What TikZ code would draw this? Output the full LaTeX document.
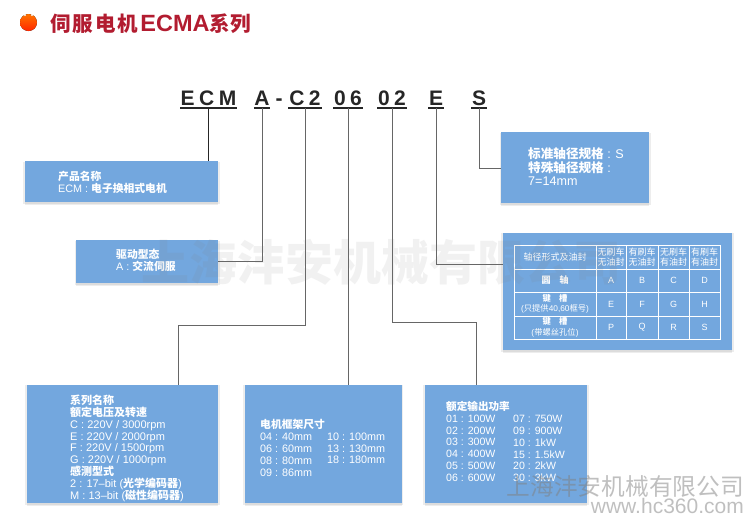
\documentclass[tikz,border=0pt]{standalone}
\usepackage{fontspec}
\setmainfont{Liberation Sans}
\newfontfamily\cjk{Noto Sans CJK SC}
\usetikzlibrary{positioning, shadows}
\definecolor{boxblue}{RGB}{115,167,222}
\definecolor{titlered}{RGB}{178,28,48}
\newcommand{\zh}[1]{{\cjk\bfseries #1}}
\newcommand{\zl}[1]{{\cjk #1}}
\newcommand{\fs}[2]{\fontsize{#1}{#2}\selectfont}
\newcommand{\gap}{\kern4.5pt}

\begin{document}
\begin{tikzpicture}[
    x=1pt, y=-1pt,
    node distance=26pt,
    infobox/.style={fill=boxblue, inner sep=0pt, anchor=north west,
        drop shadow={shadow xshift=0pt, shadow yshift=-1pt, shadow scale=1.02, opacity=.07, fill=black},
        drop shadow={shadow xshift=0pt, shadow yshift=-3pt, opacity=.07, fill=black}},
    boxtext/.style={text=white, anchor=north west, align=left, inner sep=0pt},
    codepart/.style={font=\bfseries\fs{21}{21}, text=black!85, anchor=south,
        inner xsep=0pt, inner ysep=2pt, text depth=0pt,
        append after command={(\tikzlastnode.south west) edge[line width=1.5pt, black!85] (\tikzlastnode.south east)}},
    wire/.style={draw=black!60, line width=.8pt},
    cell/.style={text=white, align=center, inner sep=0pt, font=\fs{9}{10.8}},
    watermark/.style={inner sep=0pt, text=gray, opacity=.5},
]
    \useasboundingbox (0,0) rectangle (750,520);

    % Title
    \fill[top color=orange!90!red, bottom color=red!70!orange] (28.5,22.5) circle (8.5);
    \fill[white] (25,15) circle (1.2) (32,15) circle (1.2);
    \node[anchor=west, inner sep=0pt, text=titlered, font=\fs{20.5}{22}] (title) at (50,24)
        {\zh{\addfontfeature{LetterSpace=10}伺服电机}{\fs{23.5}{22}\textbf{ECMA}}\zh{系列}};

    % Model number
    \node[codepart, minimum width=56pt] (ecm) at (208.5,108) {E\gap C\gap M};
    \node[codepart, minimum width=16pt] (drivecode) at (262,108) {A};
    \node[anchor=south, inner ysep=2pt, inner xsep=0pt, font=\bfseries\fs{21}{21}, text=black!85] (dash) at (279,108) {-};
    \node[codepart, minimum width=33pt] (seriescode) at (305,108) {C\gap 2};
    \node[codepart, minimum width=29pt] (framecode) at (348,108) {0\gap 6};
    \node[codepart, minimum width=29pt] (powercode) at (392,108) {0\gap 2};
    \node[codepart, minimum width=15pt] (shaftcode) at (436,108) {E};
    \node[codepart, minimum width=15pt] (sizecode) at (479,108) {S};

    % Upper boxes
    \node[infobox, minimum width=193pt, minimum height=41pt] (name) at (25,161) {};
    \node[infobox, minimum width=142pt, minimum height=43pt] (drive) at (76,240) {};
    \node[infobox, minimum width=148pt, minimum height=71pt] (size) at (501,132) {};
    \node[infobox, minimum width=229pt, minimum height=117pt] (shaft) at (503,233) {};

    % Lower boxes
    \node[infobox, minimum width=191pt, minimum height=118pt] (series) at (27,385) {};
    \node[infobox, anchor=west, minimum width=157pt, minimum height=118pt, right=26pt of series] (frame) {};
    \node[infobox, anchor=west, minimum width=162pt, minimum height=118pt, right=23pt of frame] (power) {};

    % Connectors
    \coordinate (serieselbow) at (178,325);
    \coordinate (powerelbow) at (476,322);
    \coordinate (sizeelbow) at (501,168);
    \coordinate (shaftelbow) at (503,264);
    \draw[wire, draw=black!85] (ecm.south) -- (ecm.south |- name.north);
    \draw[wire] (drivecode.south) |- (drive.east);
    \draw[wire] (seriescode.south) |- (serieselbow) -- (serieselbow |- series.north);
    \draw[wire] (framecode.south) -- (framecode.south |- frame.north);
    \draw[wire] (powercode.south) |- (powerelbow) -- (powerelbow |- power.north);
    \draw[wire] (shaftcode.south) |- (shaftelbow);
    \draw[wire] (sizecode.south) |- (sizeelbow);

    % Box texts
    \node[boxtext, font=\fs{10.8}{12.3}] (nametext) at (58,170.5) {\zh{产品名称}\\ECM : \zh{电子换相式电机}};
    \node[boxtext, font=\fs{10.8}{12.3}] (drivetext) at (116,248.5) {\zh{驱动型态}\\A : \zh{交流伺服}};
    \node[boxtext, font=\fs{12.6}{13.6}] (sizetext) at (528,147.5) {\zh{标准轴径规格} : S\\\zh{特殊轴径规格} :\\7=14mm};
    \node[boxtext, font=\fs{11}{11.8}] (seriestext) at (70,395) {\zh{系列名称}\\\zh{额定电压及转速}\\C : 220V / 3000rpm\\E : 220V / 2000rpm\\F : 220V / 1500rpm\\G : 220V / 1000rpm\\\zh{感测型式}\\2 : 17--bit (\zh{光学编码器})\\M : 13--bit (\zh{磁性编码器})};
    \node[boxtext, font=\fs{10.8}{11.8}] (frametext) at (260,419.5) {\zh{电机框架尺寸}\\04 : 40mm\\06 : 60mm\\08 : 80mm\\09 : 86mm};
    \node[boxtext, font=\fs{10.8}{11.8}] (frametextb) at (327,432.5) {10 : 100mm\\13 : 130mm\\18 : 180mm};
    \node[boxtext, font=\fs{10.6}{11.8}] (powertext) at (446,401) {\zh{额定输出功率}\\01 : 100W\\02 : 200W\\03 : 300W\\04 : 400W\\05 : 500W\\06 : 600W};
    \node[boxtext, font=\fs{10.6}{11.8}] (powertextb) at (513,415) {07 : 750W\\09 : 900W\\10 : 1kW\\15 : 1.5kW\\20 : 2kW\\30 : 3kW};

    % Shaft table
    \draw[white, line width=.6pt] (514,245) rectangle (720,339);
    \foreach \gridx in {596,626,658,689}
        \draw[white, line width=.6pt] (\gridx,245) -- (\gridx,339);
    \foreach \gridy in {269,292,316}
        \draw[white, line width=.6pt] (514,\gridy) -- (720,\gridy);
    \node[cell] (headshaft) at (555,257) {\zl{轴径形式及油封}};
    \foreach \name/\x/\first/\second in {heada/611/无/无, headb/642/有/无, headc/673.5/无/有, headd/704.5/有/有}
        \node[cell] (\name) at (\x,257) {\zl{\first 刷车}\\\zl{\second 油封}};
    \node[cell] (rowround) at (555,280.5) {\zh{圆\quad 轴}};
    \node[cell, font=\fs{8.3}{10.5}] (rowkey) at (555,304) {\zh{键\quad 槽}\\(\zl{只提供}40,60\zl{框号})};
    \node[cell, font=\fs{8.3}{10.5}] (rowscrew) at (555,327.5) {\zh{键\quad 槽}\\(\zl{带螺丝孔位})};
    \foreach \letter/\x/\y in {A/611/280.5, B/642/280.5, C/673.5/280.5, D/704.5/280.5,
                               E/611/304, F/642/304, G/673.5/304, H/704.5/304,
                               P/611/327.5, Q/642/327.5, R/673.5/327.5, S/704.5/327.5}
        \node[cell] (cell\letter) at (\x,\y) {\letter};

    % Watermarks
    \node[inner sep=0pt, text=gray, opacity=.11, font=\cjk\bfseries\fs{48}{50}] (markcentre) at (381,262) {上海沣安机械有限公司};
    \node[watermark, anchor=east, font=\cjk\fs{23.7}{25}] (markname) at (744,486) {上海沣安机械有限公司};
    \node[watermark, anchor=east, font=\fs{21}{23}] (markweb) at (744,506) {www.hc360.com};
\end{tikzpicture}
\end{document}
